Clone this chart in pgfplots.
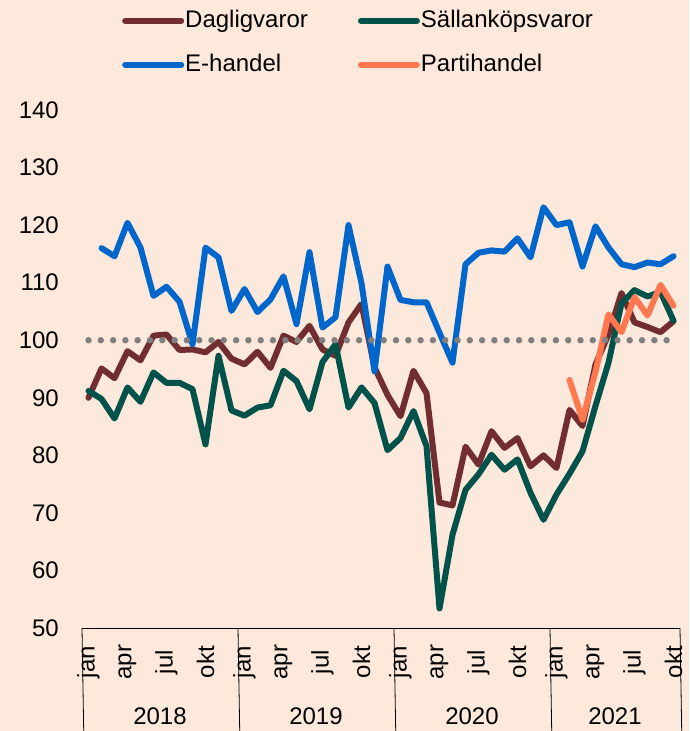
\documentclass[border=0pt]{standalone}
\usepackage{fontspec}
\setmainfont{Liberation Sans}
\usepackage{pgfplots}
\pgfplotsset{compat=1.18}

\definecolor{bgpeach}{RGB}{253,233,220}
\definecolor{cdagl}{RGB}{114,46,46}
\definecolor{csall}{RGB}{0,82,74}
\definecolor{cehan}{RGB}{0,102,204}
\definecolor{cpart}{RGB}{255,120,80}
\definecolor{cref}{RGB}{128,128,128}

\begin{document}
\fontsize{24}{29}\selectfont
\begin{tikzpicture}
\fill[bgpeach] (0,0) rectangle (689pt,-731pt);
\useasboundingbox (0,0) rectangle (689pt,-731pt);
\begin{axis}[
    at={(82pt,-628pt)}, anchor=south west,
    scale only axis,
    width=598pt, height=518pt,
    xmin=-0.5, xmax=45.5,
    ymin=50, ymax=140,
    clip=false,
    axis lines*=left,
    y axis line style={draw=none},
    x axis line style={black, line width=0.8pt},
    ytick={50,60,...,140},
    ytick style={draw=none},
    xtick={0,3,...,45},
    xticklabels={jan,apr,jul,okt,jan,apr,jul,okt,jan,apr,jul,okt,jan,apr,jul,okt},
    xtick style={draw=none},
    xticklabel style={rotate=90, anchor=center, inner sep=0pt},
    xticklabel shift=34pt,
    yticklabel style={anchor=east, inner sep=0pt},
    yticklabel shift=23pt,
    every tick label/.append style={font=\fontsize{24}{29}\selectfont},
    /pgf/number format/assume math mode=true,
    legend columns=2,
    legend cell align=left,
    legend style={
        at={(axis description cs:0.0669,1.195)}, anchor=north west,
        draw=none, fill=none, inner sep=0pt,
        font=\fontsize{24}{29}\selectfont,
        nodes={inner sep=1pt},
        row sep=21pt,
        /tikz/every even column/.append style={column sep=49pt}
    },
    legend image code/.code={\draw[#1, line width=6pt, line cap=round] (3pt,0pt) -- (59pt,0pt);},
    every axis plot/.append style={line width=6pt, line join=round, line cap=round, mark=none}
]

% Dagligvaror
\addplot[cdagl] coordinates {
(0,90.0) (1,95.1) (2,93.4) (3,98.1) (4,96.5) (5,100.8) (6,101.0) (7,98.3) (8,98.4) (9,97.9)
(10,99.7) (11,96.8) (12,95.8) (13,98.0) (14,95.2) (15,100.8) (16,99.7) (17,102.5) (18,98.4) (19,97.3)
(20,103.1) (21,106.3) (22,95.3) (23,90.5) (24,86.8) (25,94.7) (26,90.8) (27,71.8) (28,71.3) (29,81.5)
(30,78.4) (31,84.2) (32,81.3) (33,83.0) (34,78.1) (35,80.0) (36,77.8) (37,87.9) (38,85.1) (39,95.8)
(40,101.0) (41,108.2) (42,103.1) (43,102.3) (44,101.4) (45,103.3)};
\addlegendentry{Dagligvaror}

% Sällanköpsvaror
\addplot[csall] coordinates {
(0,91.2) (1,89.8) (2,86.4) (3,91.8) (4,89.3) (5,94.4) (6,92.6) (7,92.6) (8,91.5) (9,81.9)
(10,97.3) (11,87.8) (12,86.9) (13,88.3) (14,88.7) (15,94.7) (16,92.9) (17,88.0) (18,96.2) (19,99.3)
(20,88.3) (21,91.8) (22,89.1) (23,80.9) (24,83.0) (25,87.7) (26,81.6) (27,53.4) (28,66.2) (29,74.0)
(30,76.7) (31,80.1) (32,77.5) (33,79.3) (34,73.5) (35,68.8) (36,73.2) (37,76.8) (38,80.7) (39,88.6)
(40,96.1) (41,106.4) (42,108.7) (43,107.6) (44,108.4) (45,103.4)};
\addlegendentry{Sällanköpsvaror}

% E-handel
\addplot[cehan] coordinates {
(1,116.0) (2,114.6) (3,120.4) (4,116.1) (5,107.7) (6,109.3) (7,106.7) (8,99.3) (9,116.1)
(10,114.4) (11,105.1) (12,108.9) (13,104.9) (14,107.1) (15,111.1) (16,102.8) (17,115.3) (18,102.2) (19,104.0)
(20,120.0) (21,109.9) (22,94.6) (23,112.8) (24,107.0) (25,106.6) (26,106.6) (27,101.3) (28,96.1) (29,113.2)
(30,115.2) (31,115.6) (32,115.4) (33,117.7) (34,114.4) (35,123.1) (36,120.0) (37,120.5) (38,112.8) (39,119.8)
(40,116.1) (41,113.2) (42,112.7) (43,113.5) (44,113.2) (45,114.6)};
\addlegendentry{E-handel}

% Partihandel
\addplot[cpart] coordinates {
(37,93.1) (38,86.2) (39,94.5) (40,104.5) (41,101.4) (42,107.5) (43,104.3) (44,109.6) (45,106.0)};
\addlegendentry{Partihandel}

% reference line at 100
\addplot[cref, line width=6.5pt, dash pattern=on 0pt off 12.3pt, line cap=round, forget plot]
    coordinates {(0,100) (45,100)};

% year groups below the month labels
\draw[black, line width=0.8pt] (axis cs:-0.5,50) -- ++(0,-103pt);
\draw[black, line width=0.8pt] (axis cs:11.5,50) -- ++(0,-103pt);
\draw[black, line width=0.8pt] (axis cs:23.5,50) -- ++(0,-103pt);
\draw[black, line width=0.8pt] (axis cs:35.5,50) -- ++(0,-103pt);
\draw[black, line width=0.8pt] (axis cs:45.5,50) -- ++(0,-103pt);
\node[anchor=center] at (axis cs:5.5,50) [yshift=-88pt] {2018};
\node[anchor=center] at (axis cs:17.5,50) [yshift=-88pt] {2019};
\node[anchor=center] at (axis cs:29.5,50) [yshift=-88pt] {2020};
\node[anchor=center] at (axis cs:40.5,50) [yshift=-88pt] {2021};

\end{axis}
\end{tikzpicture}
\end{document}
